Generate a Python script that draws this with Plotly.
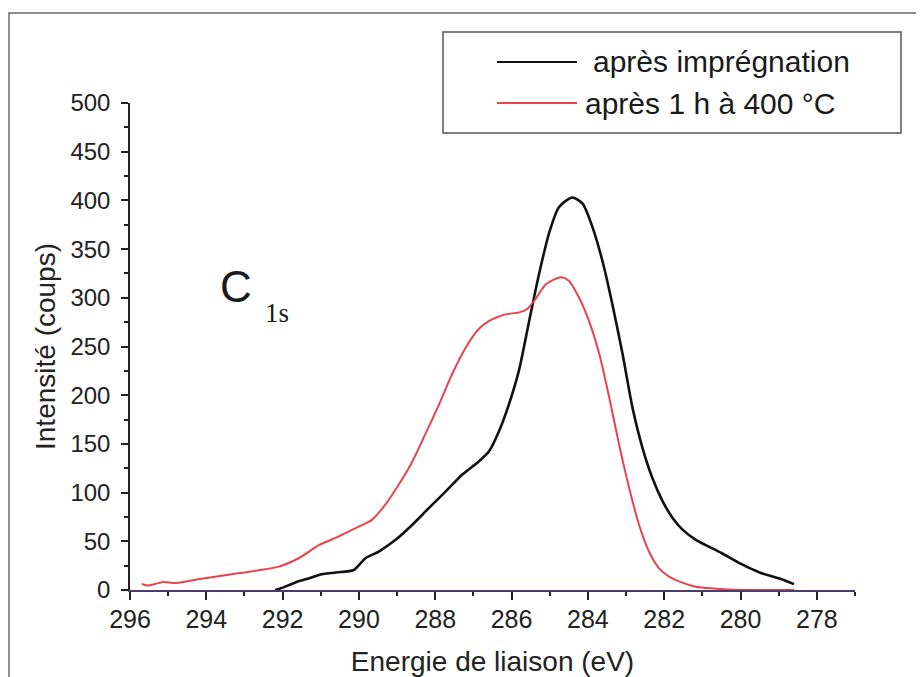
import plotly.graph_objects as go

# ---- data ----
energy_impregnation = [292.2, 292.1, 291.9, 291.65, 291.58, 291.3, 291.05, 290.6, 290.14, 289.83, 289.48,
                       289.04, 288.6, 288.17, 287.73, 287.29, 286.86, 286.59, 286.33, 286.07, 285.81,
                       285.54, 285.28, 285.02, 284.76, 284.41, 284.14, 283.88, 283.62, 283.36, 283.09,
                       282.83, 282.57, 282.31, 282.04, 281.78, 281.52, 281.17, 280.5, 280.0, 279.5,
                       279.0, 278.6]
counts_impregnation = [0, 1, 4, 8, 9, 12, 15.5, 18, 20.5, 32.6, 39.5,
                       51.5, 67, 84, 101, 118.5, 132, 142.5, 163, 190.6, 225,
                       276, 324.5, 366, 393, 403, 396.6, 372.6, 338, 293.6, 242,
                       187, 146, 115, 91, 74, 62, 51.5, 38, 27, 18,
                       12, 6]

energy_400C = [295.69, 295.52, 295.34, 295.13, 294.78, 294.17, 293.29, 292.59, 292.1, 291.58, 291.05,
               290.53, 290.09, 289.66, 289.31, 288.96, 288.6, 288.26, 287.9, 287.56, 287.2, 286.86,
               286.5, 286.16, 285.8, 285.59, 285.37, 285.1, 284.71, 284.5, 284.23, 283.97, 283.7,
               283.44, 283.18, 282.92, 282.66, 282.4, 282.13, 281.87, 281.6, 281.17, 280.7, 280.2,
               279.5, 278.6]
counts_400C = [6.2, 4.5, 6.2, 8.2, 7.2, 11.3, 16.4, 20.5, 24, 32.6, 46,
               55, 63.5, 72, 87.6, 108, 132, 160, 190.6, 221.5, 249, 268,
               278, 283, 285, 288.5, 299, 314, 321, 317.6, 300, 276, 242,
               197.5, 149, 105, 67, 39.5, 22, 13.7, 8.6, 3.4, 1.5, 0.3,
               0, 0]

series_names = ["après imprégnation", "après 1 h à 400 °C"]
series_colors = ["#111111", "#e8444e"]

x_range = [296, 277]
y_range = [0, 500]
x_tick_values = [296, 294, 292, 290, 288, 286, 284, 282, 280, 278]
y_tick_values = [0, 50, 100, 150, 200, 250, 300, 350, 400, 450, 500]

FONT = "Liberation Sans, Arial, sans-serif"
W, H = 924, 677
OFF = 8  # page body margin in the browser
L, T = 130 - OFF, 103 - OFF
R, B = W - (855 - OFF), H - (590 - OFF)


def px(xp):
    return (xp - OFF - L) / (W - L - R)


def py(yp):
    return (H - B - (yp - OFF)) / (H - T - B)


fig = go.Figure()
fig.add_trace(go.Scatter(x=energy_impregnation, y=counts_impregnation, mode="lines",
                         name=series_names[0],
                         line=dict(color=series_colors[0], width=2.6, shape="spline", smoothing=0.7),
                         showlegend=False, cliponaxis=False))
fig.add_trace(go.Scatter(x=energy_400C, y=counts_400C, mode="lines",
                         name=series_names[1],
                         line=dict(color=series_colors[1], width=2, shape="spline", smoothing=0.7),
                         showlegend=False, cliponaxis=False))

shapes = []
# outer frame
shapes.append(dict(type="rect", xref="paper", yref="paper", x0=px(9), x1=px(940), y0=py(13), y1=py(700),
                   line=dict(color="#6a6a6a", width=1.5), layer="below"))
# legend box
shapes.append(dict(type="rect", xref="paper", yref="paper", x0=px(443), x1=px(901), y0=py(32), y1=py(133),
                   line=dict(color="#555555", width=1.5), fillcolor="white"))
# legend lines
shapes.append(dict(type="line", xref="paper", yref="paper", x0=px(497), x1=px(577), y0=py(62), y1=py(62),
                   line=dict(color=series_colors[0], width=2)))
shapes.append(dict(type="line", xref="paper", yref="paper", x0=px(497), x1=px(577), y0=py(103), y1=py(103),
                   line=dict(color=series_colors[1], width=2)))

annotations = [
    dict(text=series_names[0], xref="paper", yref="paper", x=px(591), y=py(62), xanchor="left",
         yanchor="middle", showarrow=False, font=dict(family=FONT, size=30, color="#1a1a1a")),
    dict(text=series_names[1], xref="paper", yref="paper", x=px(583), y=py(103), xanchor="left",
         yanchor="middle", showarrow=False, font=dict(family=FONT, size=30, color="#1a1a1a")),
    dict(text="C", xref="paper", yref="paper", x=px(218), y=py(286), xanchor="left",
         yanchor="middle", showarrow=False, font=dict(family=FONT, size=44, color="#1a1a1a")),
    dict(text="1s", xref="paper", yref="paper", x=px(263), y=py(313), xanchor="left",
         yanchor="middle", showarrow=False, font=dict(family="Liberation Serif, serif", size=27, color="#1a1a1a")),
]

fig.update_layout(
    width=W, height=H,
    margin=dict(l=L, r=R, t=T, b=B, autoexpand=False),
    paper_bgcolor="white", plot_bgcolor="white",
    font=dict(family=FONT, color="#222222"),
    shapes=shapes, annotations=annotations,
    showlegend=False,
)

fig.update_xaxes(
    range=x_range, tickvals=x_tick_values, ticktext=[str(v) for v in x_tick_values],
    showgrid=False, zeroline=False, showline=True, linecolor="#4b3d6b", linewidth=2,
    ticks="outside", ticklen=8, tickwidth=2, tickcolor="#222222",
    minor=dict(dtick=1, tick0=0, ticks="outside", ticklen=4, tickwidth=2, tickcolor="#222222", showgrid=False),
    tickfont=dict(family=FONT, size=25, color="#222222"), ticklabelstandoff=-2,
    automargin=False,
    title=dict(text="Energie de liaison (eV)", font=dict(family=FONT, size=28, color="#222222"), standoff=19),
)
fig.update_yaxes(
    range=y_range, tickvals=y_tick_values, ticktext=[str(v) for v in y_tick_values],
    showgrid=False, zeroline=False, showline=True, linecolor="#222222", linewidth=1.5,
    ticks="outside", ticklen=7, tickwidth=1.5, tickcolor="#222222",
    minor=dict(dtick=25, tick0=0, ticks="outside", ticklen=4, tickwidth=1.5, tickcolor="#222222", showgrid=False),
    tickfont=dict(family=FONT, size=24, color="#222222"), ticklabelstandoff=6,
    automargin=False,
    title=dict(text="Intensité (coups)", font=dict(family=FONT, size=28, color="#222222"), standoff=7),
)

fig.write_html("out.html")
